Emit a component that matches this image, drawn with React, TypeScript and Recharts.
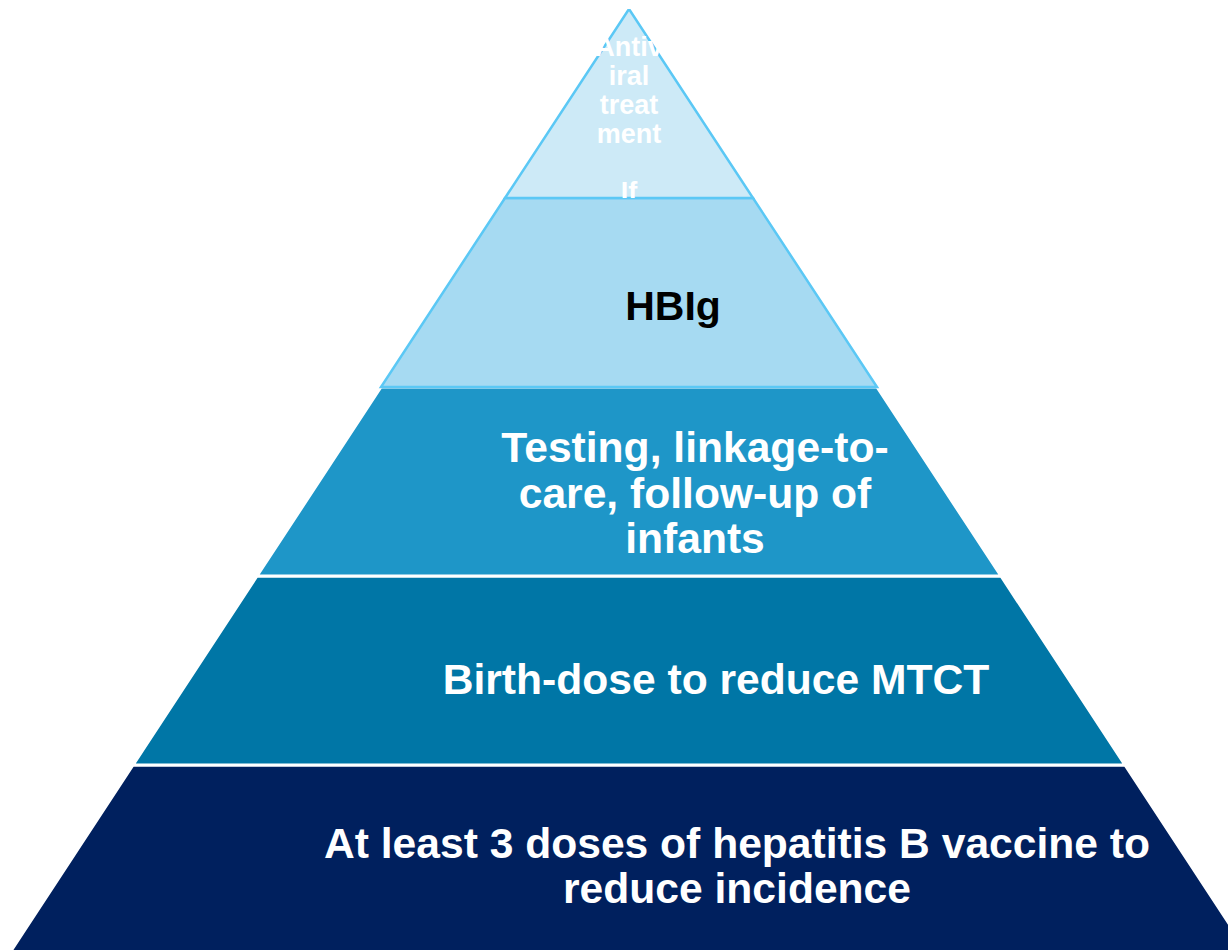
import React from 'react';
import { FunnelChart, Funnel, Cell, LabelList } from 'recharts';

// pyramid levels, from the base up to the tip
const levels = [
  'At least 3 doses of hepatitis B vaccine to reduce incidence',
  'Birth-dose to reduce MTCT',
  'Testing, linkage-to-care, follow-up of infants',
  'HBIg',
  'Antiviral treatment If',
];

// relative width of the lower edge of each level (tip level ends in a point)
const baseWidths = [5, 4, 3, 2, 1];

// how each label wraps in the original slide
const labelLines = [
  ['At least 3 doses of hepatitis B vaccine to', 'reduce incidence'],
  ['Birth-dose to reduce MTCT'],
  ['Testing, linkage-to-', 'care, follow-up of', 'infants'],
  ['HBIg'],
  ['Antiv', 'iral', 'treat', 'ment', '', 'If'],
];

const data = levels.map((name, i) => ({ name, value: baseWidths[i] }));

const CHART_W = 1240;
const CHART_H = 945;

const levelStyles = [
  { fill: '#00205e', stroke: '#ffffff', strokeWidth: 3, color: '#ffffff', fontSize: 42.6, lineHeight: 45, dx: 108, dy: 6 },
  { fill: '#0076a6', stroke: '#ffffff', strokeWidth: 3, color: '#ffffff', fontSize: 42.6, lineHeight: 45, dx: 87, dy: 8.5 },
  { fill: '#1e96c8', stroke: '#ffffff', strokeWidth: 3, color: '#ffffff', fontSize: 42.6, lineHeight: 45.5, dx: 66, dy: 11 },
  { fill: '#a6daf2', stroke: '#5bc8f5', strokeWidth: 2.5, color: '#000000', fontSize: 41, lineHeight: 44, dx: 44, dy: 13 },
  { fill: '#cdeaf7', stroke: '#5bc8f5', strokeWidth: 2.5, color: '#ffffff', fontSize: 27, lineHeight: 29, dx: 0, dy: 15.5 },
];

const FONT = '"Liberation Sans", Arial, Helvetica, sans-serif';

function renderLabel(props: any) {
  const idx = typeof props.index === 'number' ? props.index : levels.indexOf(props.value);
  const vb = props.viewBox ?? props;
  const s = levelStyles[idx];
  const lines = labelLines[idx];
  if (!s || !lines) return null;
  // the pyramid is centred in the chart, text sits a bit right of centre
  const cx = CHART_W / 2 + s.dx;
  const cy = vb.y + vb.height / 2 + s.dy;
  const firstBaseline = cy - ((lines.length - 1) * s.lineHeight) / 2 + (s.fontSize * 0.716) / 2;
  const clipId = `level-clip-${idx}`;
  return (
    <g key={clipId}>
      <defs>
        <clipPath id={clipId}>
          <rect x={0} y={vb.y} width={CHART_W} height={vb.height} />
        </clipPath>
      </defs>
      <text
        clipPath={`url(#${clipId})`}
        textAnchor="middle"
        fill={s.color}
        fontFamily={FONT}
        fontWeight="bold"
        fontSize={s.fontSize}
      >
        {lines.map((line, i) => (
          <tspan key={i} x={cx} y={firstBaseline + i * s.lineHeight}>
            {line}
          </tspan>
        ))}
      </text>
    </g>
  );
}

export default function App() {
  return (
    <div
      style={{
        position: 'absolute',
        left: 0,
        top: 0,
        width: 1228,
        height: 950,
        overflow: 'hidden',
        background: '#ffffff',
      }}
    >
      <div style={{ position: 'absolute', left: 9, top: 9 }}>
        <FunnelChart width={CHART_W} height={CHART_H} margin={{ top: 0, right: 0, bottom: 0, left: 0 }}>
          <Funnel
            data={data}
            dataKey="value"
            nameKey="name"
            reversed
            isAnimationActive={false}
          >
            {data.map((d, i) => (
              <Cell
                key={d.name}
                fill={levelStyles[i].fill}
                stroke={levelStyles[i].stroke}
                strokeWidth={levelStyles[i].strokeWidth}
              />
            ))}
            <LabelList dataKey="name" content={renderLabel} />
          </Funnel>
        </FunnelChart>
      </div>
    </div>
  );
}
